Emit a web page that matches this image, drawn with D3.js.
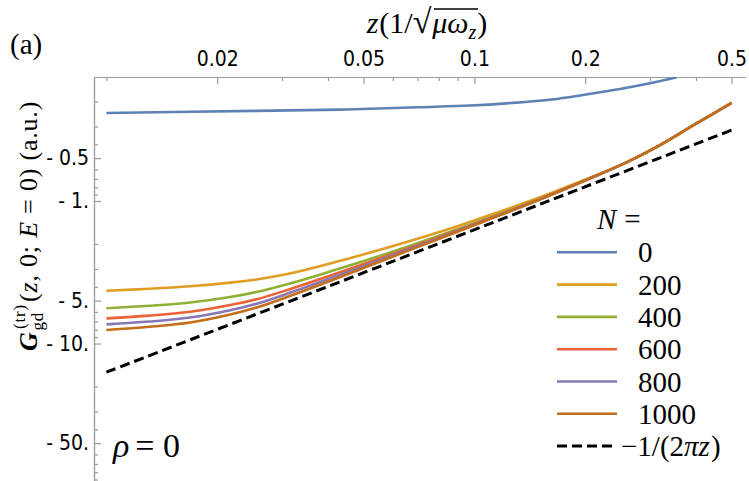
<!DOCTYPE html>
<meta charset="utf-8">
<body>
<script src="https://d3js.org/d3.v7.min.js"></script>
<script>
var TICKFONT = "'DejaVu Sans Condensed', 'DejaVu Sans'", MATHFONT = "'Liberation Serif'";

// plot limits and ticks
var zLimits = [0.009254, 0.5437],
    gLimits = [0.1348, 92.2];
var zMajor = [0.02, 0.05, 0.1, 0.2, 0.5],
    zMinor = [0.01, 0.03, 0.04, 0.06, 0.07, 0.08, 0.09, 0.3, 0.4];
var gMajor = [0.5, 1, 5, 10, 50],
    gMajorLabels = ["- 0.5", "- 1.", "- 5.", "- 10.", "- 50."],
    gMinor = [0.2, 0.3, 0.4, 0.6, 0.7, 0.8, 0.9, 2, 3, 4, 6, 7, 8, 9, 20, 30, 40, 60, 70, 80, 90];

// N = 0 curve, |G|
var zN0 = [0.01, 0.0256, 0.0449, 0.0703, 0.0973, 0.1258, 0.1625, 0.1973, 0.2487, 0.3000, 0.3546],
    gN0 = [0.2412, 0.2329, 0.2280, 0.2197, 0.2137, 0.2052, 0.1939, 0.1804, 0.1637, 0.1493, 0.1355];

// N > 0 curves share these z values
var zN = [0.01, 0.0131, 0.0169, 0.0217, 0.0256, 0.0315, 0.0405, 0.0582, 0.0853, 0.1103, 0.1425, 0.1709, 0.2101, 0.2599, 0.3194, 0.3927, 0.5];
var gN200  = [4.261, 4.126, 3.962, 3.738, 3.549, 3.227, 2.746, 2.120, 1.572, 1.254, 0.992, 0.830, 0.673, 0.533, 0.405, 0.295, 0.205],
    gN400  = [5.662, 5.438, 5.156, 4.718, 4.351, 3.793, 3.125, 2.324, 1.655, 1.303, 1.020, 0.851, 0.679, 0.533, 0.405, 0.295, 0.205],
    gN600  = [6.656, 6.371, 5.982, 5.369, 4.889, 4.159, 3.349, 2.413, 1.688, 1.318, 1.026, 0.851, 0.679, 0.533, 0.405, 0.295, 0.205],
    gN800  = [7.334, 7.010, 6.571, 5.840, 5.257, 4.408, 3.498, 2.472, 1.710, 1.329, 1.033, 0.851, 0.679, 0.533, 0.405, 0.295, 0.205],
    gN1000 = [8.040, 7.634, 7.122, 6.259, 5.589, 4.642, 3.642, 2.532, 1.732, 1.338, 1.033, 0.851, 0.679, 0.533, 0.405, 0.295, 0.205];

// dashed reference line -1/(2 pi z), read at a few points
var zDash = [0.01, 0.0405, 0.1605, 0.5],
    gDash = [15.9, 3.93, 0.99, 0.318];

var legendNames = ["0", "200", "400", "600", "800", "1000"];
var colors = ["#5E81B5", "#E19C24", "#8FB032", "#EB6235", "#8778B3", "#C56E1A"];

var W = 749, H = 481;
var svg = d3.select("body").append("svg").attr("width", W).attr("height", H)
    .style("position", "absolute").style("left", "0px").style("top", "0px");

var x = d3.scaleLog().domain(zLimits).range([94, 745]);
var y = d3.scaleLog().domain(gLimits).range([77, 481]);

svg.append("defs").append("clipPath").attr("id", "clip")
  .append("rect").attr("x", 94).attr("y", 77).attr("width", 651).attr("height", 404);

// axes, ticks point into the plot
var topAxis = svg.append("g").attr("transform", "translate(0,77)")
    .call(d3.axisTop(x).tickValues(zMajor).tickFormat(d3.format("")).tickSize(-7).tickSizeOuter(0));
svg.append("g").attr("transform", "translate(0,77)")
    .call(d3.axisTop(x).tickValues(zMinor).tickFormat("").tickSize(-4).tickSizeOuter(0));
var leftAxis = svg.append("g").attr("transform", "translate(94,0)")
    .call(d3.axisLeft(y).tickValues(gMajor).tickFormat(function(d, i) { return gMajorLabels[i]; }).tickSize(-7).tickSizeOuter(0));
svg.append("g").attr("transform", "translate(94,0)")
    .call(d3.axisLeft(y).tickValues(gMinor).tickFormat("").tickSize(-4).tickSizeOuter(0));
svg.selectAll(".domain, .tick line").attr("stroke", "#9a9a9a").attr("stroke-width", 1.2);
svg.selectAll(".tick text").style("font-family", TICKFONT).style("font-size", "21px").attr("fill", "#000");
topAxis.selectAll(".tick text").attr("dy", "0").attr("y", -11);
leftAxis.selectAll(".tick text").attr("x", -5);

// curves
var line = d3.line().curve(d3.curveCatmullRom.alpha(0.5))
    .x(function(d) { return x(d[0]); })
    .y(function(d) { return y(d[1]); });
var plot = svg.append("g").attr("clip-path", "url(#clip)");
var series = [gN200, gN400, gN600, gN800, gN1000];

plot.append("path").attr("fill", "none").attr("stroke-width", 2.6).attr("stroke", colors[0])
    .attr("d", line(d3.zip(zN0, gN0)));
series.forEach(function(g, i) {
  plot.append("path").attr("fill", "none").attr("stroke-width", 2.6).attr("stroke", colors[i + 1])
      .attr("d", line(d3.zip(zN, g)));
});
plot.append("path").attr("fill", "none").attr("stroke", "#000").attr("stroke-width", 3)
    .attr("stroke-dasharray", "10,5").attr("d", line(d3.zip(zDash, gDash)));

// math text: one <text> with tspans
function mtext(parent, px, py, size, parts, anchor) {
  var t = parent.append("text").attr("x", px).attr("y", py)
      .style("font-family", MATHFONT).style("font-size", size + "px").attr("fill", "#000")
      .attr("text-anchor", anchor || "start");
  parts.forEach(function(p) {
    if (typeof p === "string") p = {t: p};
    var s = t.append("tspan").text(p.t);
    if (p.it) s.style("font-style", "italic");
    if (p.bold) s.style("font-weight", "bold");
    if (p.size) s.style("font-size", p.size + "px");
    if (p.dx) s.attr("dx", p.dx);
    if (p.dy) s.attr("dy", p.dy);
  });
  return t;
}

// top title
mtext(svg, 427, 33, 30, [
  {t: "z", it: true}, {t: "(1/", dx: 1}, {t: "√", size: 34},
  {t: "μω", it: true, dx: 1}, {t: "z", it: true, size: 20, dy: 6}, {t: ")", dy: -6, dx: 1}
], "middle");
svg.append("line").attr("x1", 434).attr("x2", 478).attr("y1", 9).attr("y2", 9)
    .attr("stroke", "#000").attr("stroke-width", 1.3);

mtext(svg, 10, 54, 29, ["(a)"]);

// y label, rotated
var ylab = svg.append("g").attr("transform", "translate(37,226) rotate(-90)");
mtext(ylab, 0, 0, 26, [
  {t: "G", it: true, bold: true},
  {t: "gd", size: 17, dy: 6, dx: 1},
  {t: "(tr)", size: 17, dx: -17, dy: -18},
  {t: "(", dy: 12, dx: 2},
  {t: "z", it: true}, ", 0; ", {t: "E", it: true}, " = 0)  (a.u.)"
], "middle").attr("letter-spacing", 0.8);

// rho label
mtext(svg, 113, 457, 34, [{t: "ρ", it: true}, {t: "= 0", dx: 6}]);

// legend
mtext(svg, 597, 229, 29, [{t: "N", it: true}, {t: "=", dx: 8}]);
legendNames.forEach(function(name, i) {
  var ly = 252.3 + i * 32.3;
  svg.append("line").attr("x1", 557).attr("x2", 617).attr("y1", ly).attr("y2", ly)
      .attr("stroke", colors[i]).attr("stroke-width", 2.6);
  mtext(svg, 638, ly + 10, 29, [name]);
});
var dy0 = 252.3 + 6 * 32.3;
svg.append("line").attr("x1", 557).attr("x2", 617).attr("y1", dy0).attr("y2", dy0)
    .attr("stroke", "#000").attr("stroke-width", 3).attr("stroke-dasharray", "10,5");
mtext(svg, 621, dy0 + 10, 29, ["−1/(2", {t: "πz", it: true}, {t: ")", dx: 1}]);
</script>
</body>
